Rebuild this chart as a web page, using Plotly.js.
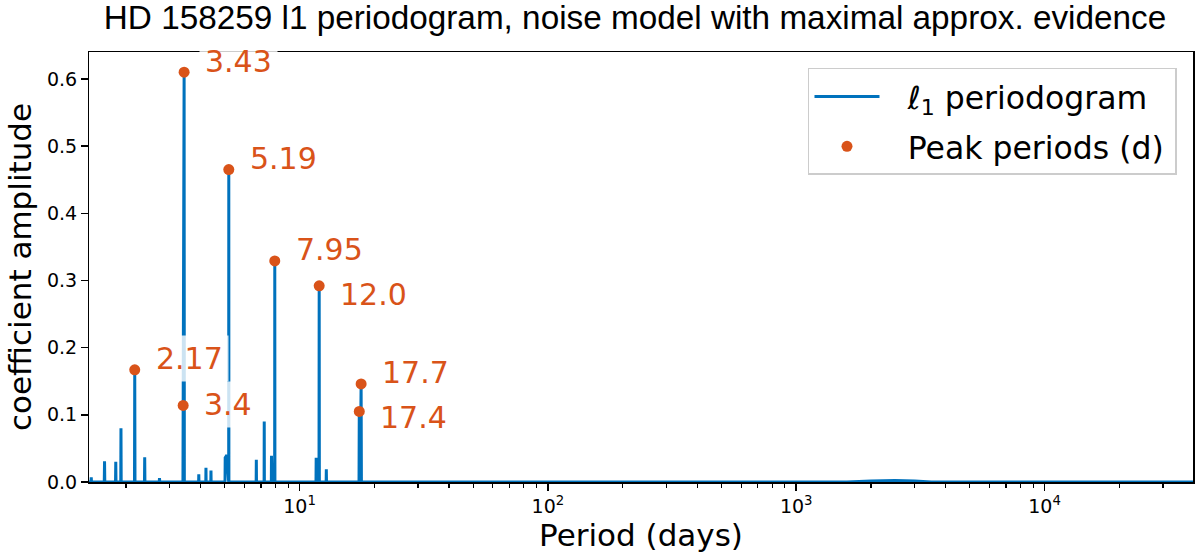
<!DOCTYPE html>
<html>
<head>
<meta charset="utf-8">
<script src="https://cdn.plot.ly/plotly-3.0.1.min.js"></script>
<style>html,body{margin:0;padding:0;background:#fff;}#chart{width:1200px;height:558px;}</style>
</head>
<body>
<div id="chart"></div>
<script>
// l1 periodogram (period in days, coefficient amplitude)
const periods = [
  1.42, 1.447, 1.45, 1.453,
  1.636, 1.64, 1.644,
  1.816, 1.82, 1.824,
  1.906, 1.91, 1.914,
  2.165, 2.17, 2.175,
  2.375, 2.38, 2.385,
  2.724, 2.73, 2.736,
  3.393, 3.40, 3.415, 3.43, 3.437,
  3.924, 3.93, 3.936,
  4.194, 4.20, 4.206,
  4.394, 4.40, 4.406,
  5.012, 5.02, 5.10, 5.185, 5.19, 5.196,
  6.69, 6.70, 6.71,
  7.20, 7.21, 7.22,
  7.70, 7.71, 7.75, 7.94, 7.95, 7.96,
  11.65, 11.67, 11.70, 11.98, 12.0, 12.02,
  12.80, 12.82, 12.84,
  17.36, 17.4, 17.55, 17.7, 17.75,
  1600, 2000, 2500, 3000, 3500,
  39600
];
const amplitudes = [
  0, 0, 0.007, 0,
  0, 0.031, 0,
  0, 0.030, 0,
  0, 0.080, 0,
  0, 0.167, 0,
  0, 0.037, 0,
  0, 0.006, 0,
  0, 0.114, 0, 0.610, 0,
  0, 0.0115, 0,
  0, 0.021, 0,
  0, 0.017, 0,
  0, 0.036, 0.040, 0, 0.465, 0,
  0, 0.033, 0,
  0, 0.090, 0,
  0, 0.039, 0, 0, 0.329, 0,
  0, 0.036, 0, 0, 0.292, 0,
  0, 0.019, 0,
  0, 0.105, 0, 0.146, 0,
  0, 0.0015, 0.0022, 0.0015, 0,
  0
];
// detected peaks
const peakPeriods = [3.43, 5.19, 7.95, 12.0, 2.17, 3.40, 17.7, 17.4];
const peakAmps    = [0.610, 0.465, 0.329, 0.292, 0.167, 0.114, 0.146, 0.105];
const peakLabels  = ['3.43', '5.19', '7.95', '12.0', '2.17', '3.4', '17.7', '17.4'];
// label placement offsets (pixels, up positive)
const labelDy = [11, 11, 11, -9, 11, 1, 11, -6.5];

const xTickVals = [10, 100, 1000, 10000];
const xTickText = ['10<sup>1</sup>', '10<sup>2</sup>', '10<sup>3</sup>', '10<sup>4</sup>'];
const yTickVals = [0, 0.1, 0.2, 0.3, 0.4, 0.5, 0.6];

const BLUE = '#0072BD', ORANGE = '#D95319';
const FONT = 'DejaVu Sans, sans-serif';
const LEAD = '\u00a0\u00a0\u200a';
const TRAIL = '\u2009';

const minorVals = [];
for (let e = 0; e <= 4; e++) for (let m = 2; m <= 9; m++) minorVals.push(m * Math.pow(10, e));

const traces = [
  {
    x: periods, y: amplitudes, type: 'scatter', mode: 'lines',
    name: LEAD + 'ℓ<sub>1</sub> periodogram' + TRAIL, legendgroup: 'a',
    line: {color: BLUE, width: 3}, hoverinfo: 'skip'
  },
  {
    x: peakPeriods, y: peakAmps, type: 'scatter', mode: 'markers',
    name: LEAD + 'Peak periods (d)' + TRAIL, legendgroup: 'b',
    marker: {color: ORANGE, size: 11}, cliponaxis: false
  }
];

const annotations = peakPeriods.map((p, i) => ({
  x: Math.log10(p), y: peakAmps[i], xref: 'x', yref: 'y',
  text: peakLabels[i], showarrow: false,
  xanchor: 'left', yanchor: 'middle',
  xshift: 15, yshift: labelDy[i],
  font: {family: FONT, size: 30, color: ORANGE},
  bgcolor: 'rgba(255,255,255,0.8)', borderpad: 5, borderwidth: 1,
  bordercolor: 'rgba(0,0,0,0)'
}));

const layout = {
  width: 1200, height: 558,
  margin: {l: 89, r: 7, t: 52, b: 76, pad: 0},
  paper_bgcolor: '#fff', plot_bgcolor: '#fff',
  showlegend: true,
  title: {
    text: 'HD 158259 l1 periodogram, noise model with maximal approx. evidence',
    font: {family: 'Liberation Sans, Arial, sans-serif', size: 33.3, color: '#000'},
    xref: 'container', x: 635 / 1200, xanchor: 'center',
    yref: 'container', y: 1 - 17 / 558, yanchor: 'middle'
  },
  xaxis: {
    type: 'log',
    range: [Math.log10(1.42), Math.log10(39600)],
    tickmode: 'array', tickvals: xTickVals, ticktext: xTickText,
    ticks: 'outside', ticklen: 7, tickwidth: 1.5, tickcolor: '#000',
    minor: {tickmode: 'array', tickvals: minorVals, ticks: 'outside', ticklen: 4, tickwidth: 1.2, tickcolor: '#000', showgrid: false},
    showline: true, linecolor: '#000', linewidth: 1.5, mirror: true,
    showgrid: false, zeroline: false, layer: 'below traces',
    tickfont: {family: FONT, size: 19, color: '#000'},
    title: {text: 'Period (days)', font: {family: FONT, size: 31, color: '#000'}, standoff: 8}
  },
  yaxis: {
    range: [0, 0.64],
    tickmode: 'array', tickvals: yTickVals, tickformat: '.1f',
    ticks: 'outside', ticklen: 6.5, tickwidth: 1.5, tickcolor: '#000',
    showline: true, linecolor: '#000', linewidth: 1.5, mirror: true,
    showgrid: false, zeroline: false, layer: 'below traces',
    tickfont: {family: FONT, size: 19, color: '#000'},
    title: {text: 'coefficient amplitude', font: {family: FONT, size: 31, color: '#000'}, standoff: 6}
  },
  legend: {
    x: 0.9855, xanchor: 'right', y: 0.963, yanchor: 'top',
    bgcolor: 'rgba(255,255,255,0.8)', bordercolor: '#cccccc', borderwidth: 1.5,
    font: {family: FONT, size: 31.5, color: '#000'},
    itemwidth: 65, traceorder: 'grouped', tracegroupgap: 6
  },
  annotations: annotations
};

Plotly.newPlot('chart', traces, layout, {displayModeBar: false, staticPlot: true});
</script>
</body>
</html>
